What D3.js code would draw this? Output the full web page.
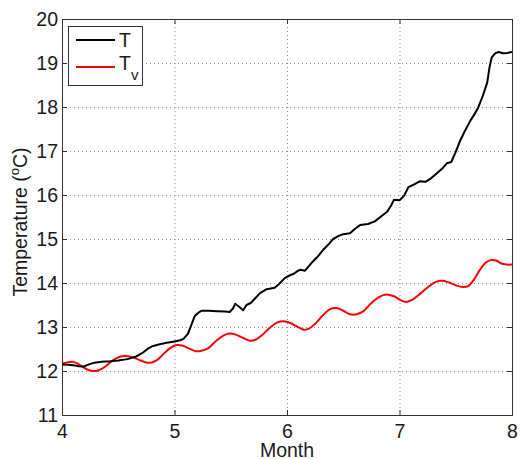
<!DOCTYPE html>
<html>
<head>
<meta charset="utf-8">
<script src="https://cdn.jsdelivr.net/npm/d3@7"></script>
<style>
  body { margin: 0; background: #fff; }
  text { font-family: "Liberation Sans", Arial, sans-serif; fill: #1a1a1a; }
</style>
</head>
<body>
<div id="chart"></div>
<script>
// month, temperature values
const monthsT = [4.00,4.05,4.10,4.15,4.19,4.24,4.29,4.35,4.43,4.50,4.58,4.66,4.72,4.77,4.81,4.87,4.93,5.00,5.05,5.08,
  5.12,5.15,5.18,5.21,5.24,5.30,5.38,5.45,5.49,5.52,5.54,5.58,5.61,5.64,5.68,5.72,5.76,5.82,5.89,5.93,
  5.98,6.02,6.06,6.10,6.12,6.16,6.20,6.23,6.28,6.32,6.37,6.41,6.46,6.50,6.56,6.60,6.65,6.72,6.78,6.83,
  6.89,6.93,6.95,7.00,7.04,7.08,7.13,7.18,7.23,7.28,7.33,7.38,7.42,7.46,7.50,7.54,7.58,7.63,7.67,7.70,
  7.74,7.78,7.80,7.82,7.85,7.88,7.92,7.96,8.00];
const valuesT = [12.15,12.14,12.13,12.11,12.10,12.15,12.19,12.21,12.22,12.24,12.27,12.33,12.42,12.52,12.57,12.61,12.64,12.67,12.70,12.73,
  12.85,13.05,13.25,13.32,13.37,13.37,13.36,13.35,13.34,13.42,13.53,13.45,13.38,13.50,13.55,13.66,13.77,13.86,13.89,13.98,
  14.11,14.17,14.21,14.28,14.30,14.28,14.40,14.49,14.62,14.75,14.88,15.00,15.07,15.11,15.13,15.22,15.32,15.34,15.40,15.50,
  15.62,15.78,15.89,15.88,15.98,16.18,16.24,16.31,16.30,16.38,16.49,16.60,16.72,16.75,16.98,17.24,17.45,17.69,17.85,17.99,
  18.25,18.56,18.90,19.13,19.22,19.25,19.22,19.23,19.25];

const monthsTv = [4.00,4.04,4.09,4.13,4.18,4.22,4.27,4.32,4.38,4.43,4.49,4.55,4.62,4.68,4.74,4.79,4.84,4.90,4.96,5.02,
  5.07,5.13,5.19,5.24,5.30,5.36,5.43,5.49,5.55,5.61,5.67,5.72,5.78,5.85,5.92,5.97,6.03,6.09,6.15,6.20,
  6.26,6.32,6.38,6.44,6.50,6.56,6.62,6.68,6.74,6.81,6.88,6.95,7.01,7.06,7.12,7.19,7.26,7.32,7.38,7.44,
  7.50,7.56,7.61,7.66,7.71,7.76,7.81,7.86,7.90,7.95,8.00];
const valuesTv = [12.17,12.19,12.21,12.18,12.10,12.04,12.00,12.01,12.09,12.20,12.30,12.34,12.32,12.26,12.20,12.19,12.24,12.38,12.52,12.59,
  12.58,12.51,12.45,12.46,12.52,12.66,12.80,12.85,12.82,12.75,12.69,12.71,12.82,12.99,13.11,13.13,13.09,13.01,12.94,12.97,
  13.10,13.27,13.40,13.43,13.37,13.29,13.29,13.36,13.52,13.67,13.74,13.70,13.61,13.57,13.63,13.77,13.92,14.02,14.05,14.01,
  13.95,13.91,13.93,14.07,14.28,14.45,14.52,14.51,14.45,14.42,14.42];

const xTicks = [4, 5, 6, 7, 8];
const yTicks = [11, 12, 13, 14, 15, 16, 17, 18, 19, 20];

const width = 525, height = 459;
const plot = { left: 62, right: 512, top: 19, bottom: 415 };
const fontSize = 19.5;

const svg = d3.select("#chart").append("svg")
    .attr("width", width)
    .attr("height", height);

const x = d3.scaleLinear().domain([4, 8]).range([plot.left, plot.right]);
const y = d3.scaleLinear().domain([11, 20]).range([plot.bottom, plot.top]);

// dotted grid
const grid = svg.append("g").attr("stroke", "#8c8c8c").attr("stroke-width", 1)
    .attr("stroke-dasharray", "1,3");
grid.selectAll(".gx").data(xTicks.slice(1, -1)).enter().append("line")
    .attr("x1", d => x(d) + 0.5).attr("x2", d => x(d) + 0.5)
    .attr("y1", plot.top).attr("y2", plot.bottom);
grid.selectAll(".gy").data(yTicks.slice(1, -1)).enter().append("line")
    .attr("y1", d => Math.round(y(d)) + 0.5).attr("y2", d => Math.round(y(d)) + 0.5)
    .attr("x1", plot.left).attr("x2", plot.right);

// axes, ticks inward (matlab style box)
const axisColor = "#333";
const xAxis = d3.axisBottom(x).tickValues(xTicks).tickSize(-5).tickPadding(9.5).tickFormat(d3.format("d"));
const yAxis = d3.axisLeft(y).tickValues(yTicks).tickSize(-5).tickPadding(4).tickFormat(d3.format("d"));

svg.append("g").attr("transform", `translate(0,${plot.bottom})`).call(xAxis);
svg.append("g").attr("transform", `translate(${plot.left},0)`).call(yAxis);
svg.append("g").attr("transform", `translate(0,${plot.top})`)
    .call(d3.axisTop(x).tickValues(xTicks).tickSize(-5).tickFormat(""));
svg.append("g").attr("transform", `translate(${plot.right},0)`)
    .call(d3.axisRight(y).tickValues(yTicks).tickSize(-5).tickFormat(""));

svg.selectAll(".domain").attr("stroke", axisColor);
svg.selectAll(".tick line").attr("stroke", axisColor);
svg.selectAll(".tick text").attr("font-size", fontSize).attr("fill", "#1a1a1a")
    .attr("font-family", "Liberation Sans, Arial, sans-serif");

// lines
const line = d3.line().x(d => x(d[0])).y(d => y(d[1]));
const dataT = monthsT.map((m, i) => [m, valuesT[i]]);
const dataTv = monthsTv.map((m, i) => [m, valuesTv[i]]);

svg.append("path").datum(dataTv)
    .attr("fill", "none").attr("stroke", "#ff0000").attr("stroke-width", 2)
    .attr("d", line.curve(d3.curveCatmullRom));
svg.append("path").datum(dataT)
    .attr("fill", "none").attr("stroke", "#000").attr("stroke-width", 2)
    .attr("stroke-linejoin", "round")
    .attr("d", line.curve(d3.curveLinear));

// axis labels
svg.append("text")
    .attr("x", x(6)).attr("y", 457)
    .attr("text-anchor", "middle").attr("font-size", fontSize)
    .text("Month");

const yl = svg.append("text")
    .attr("transform", "translate(27,222) rotate(-90)")
    .attr("text-anchor", "middle").attr("font-size", fontSize);
yl.append("tspan").text("Temperature (");
yl.append("tspan").attr("font-size", 13).attr("dy", -8).text("o");
yl.append("tspan").attr("dy", 8).text("C)");

// legend
const legend = svg.append("g");
legend.append("rect")
    .attr("x", 68.5).attr("y", 26.5).attr("width", 74).attr("height", 59)
    .attr("fill", "#fff").attr("stroke", axisColor).attr("stroke-width", 1);
const legendItems = [
  { color: "#000", label: "T", sub: "", ly: 40, base: 47 },
  { color: "#ff0000", label: "T", sub: "v", ly: 67, base: 70 }
];
legendItems.forEach(d => {
  legend.append("line").attr("x1", 76).attr("x2", 115).attr("y1", d.ly).attr("y2", d.ly)
      .attr("stroke", d.color).attr("stroke-width", 2);
  const t = legend.append("text").attr("x", 119).attr("y", d.base).attr("font-size", fontSize).text(d.label);
  if (d.sub) t.append("tspan").attr("font-size", 15).attr("dy", 10).text(d.sub);
});
</script>
</body>
</html>
